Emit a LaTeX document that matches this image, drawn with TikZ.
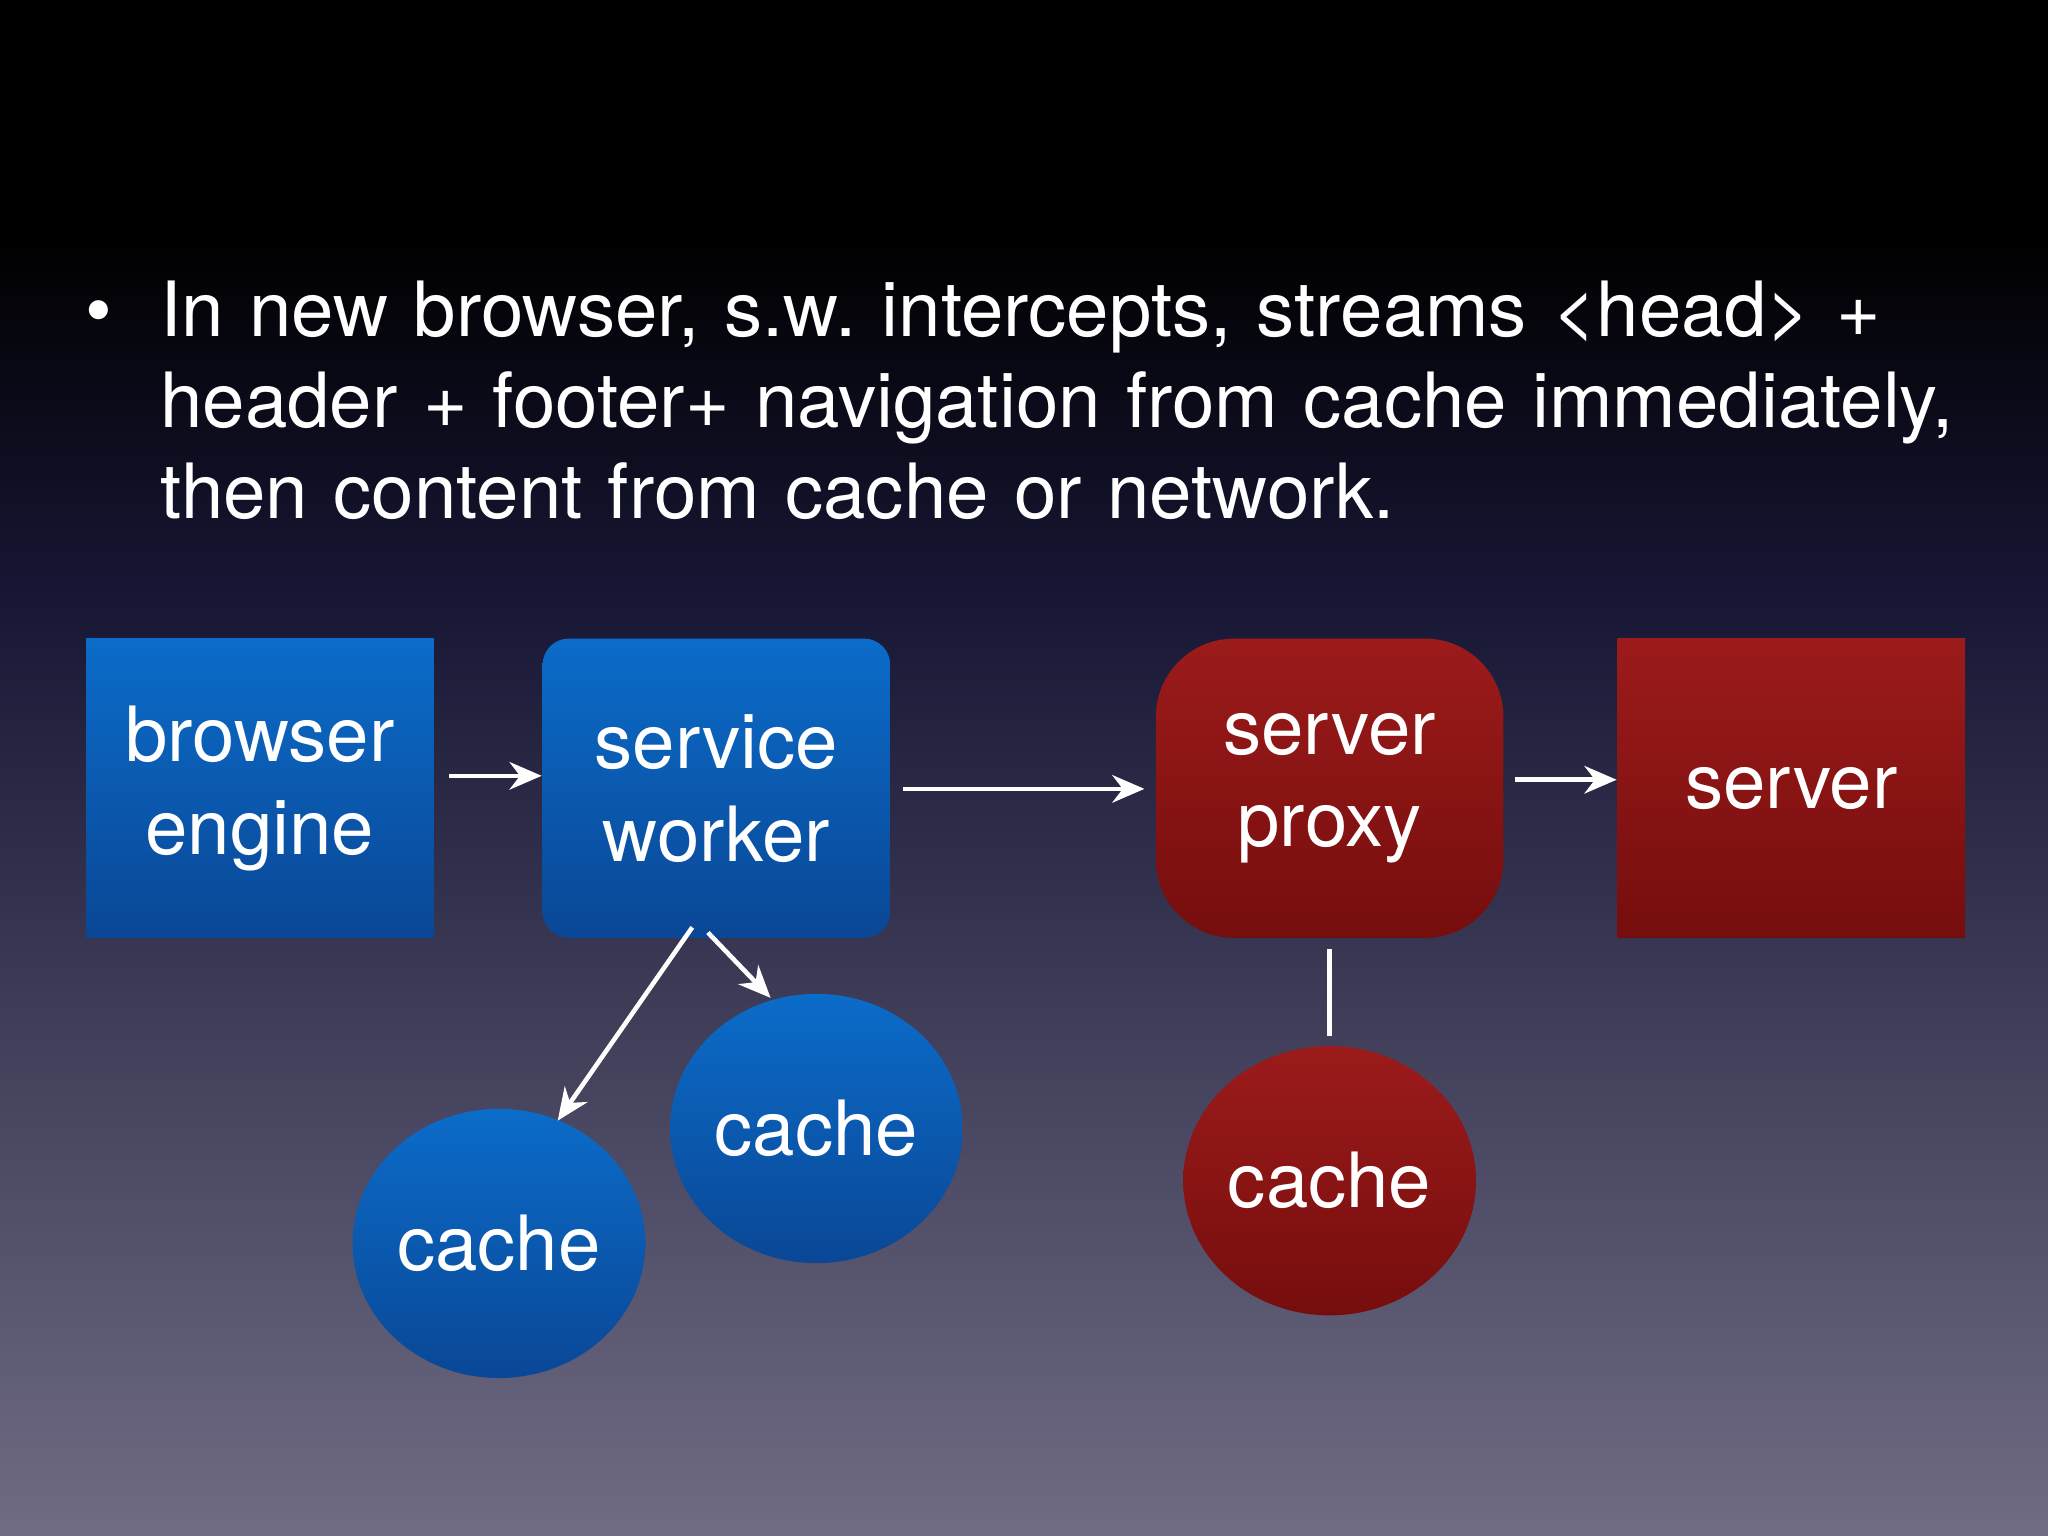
\documentclass[tikz,border=0pt]{standalone}
\usepackage{fontspec}
\setmainfont{TeX Gyre Heros}
\usetikzlibrary{shapes.geometric,arrows.meta,calc}
\definecolor{bA}{HTML}{0B6CC9}
\definecolor{bB}{HTML}{0A4796}
\definecolor{rA}{HTML}{9C1B1B}
\definecolor{rB}{HTML}{760D0D}
\begin{document}
\begin{tikzpicture}[x=0.01cm,y=-0.01cm,
 blue/.style={top color=bA,bottom color=bB,draw=none,text=white,align=center,font=\fontsize{16.6}{20.2}\selectfont,minimum width=2.66cm,minimum height=2.29cm,inner sep=0pt},
 red/.style={blue,top color=rA,bottom color=rB},
 cache/.style={ellipse,minimum width=2.24cm,minimum height=2.06cm},
 arr/.style={draw=white,line width=1pt,-{Stealth[length=7pt,width=6pt]}}]
\shade[top color=black,bottom color=black] (0,0) rectangle (1568,180);
\shade[top color=black,bottom color={rgb,255:red,22;green,22;blue,52}] (0,180) rectangle (1568,450);
\shade[top color={rgb,255:red,22;green,22;blue,52},bottom color={rgb,255:red,112;green,108;blue,132}] (0,449.5) rectangle (1568,1176);
\useasboundingbox (0,0) rectangle (1568,1176);
\node[text=white,anchor=base west,font=\fontsize{16.6}{19.8}\selectfont,align=left,text width=14.4cm,inner sep=0pt] (txt) at (122,258)
 {In new browser, s.w.\ intercepts, streams \textless head\textgreater{} +\\header + footer+ navigation from cache immediately,\\then content from cache or network.};
\node[text=white,font=\fontsize{16.6}{19.8}\selectfont,anchor=base,inner sep=0pt] (bul) at (76,258) {•};
\node[blue] (be) at (199,603.5) {browser\\engine};
\node[blue,rounded corners=0.2cm] (sw) at (548.5,603.5) {service\\worker};
\node[red,rounded corners=0.6cm] (sp) at (1018,603.5) {server\\proxy};
\node[red] (sv) at (1371.5,603.5) {server};
\node[blue,cache] (c1) at (382,952) {cache};
\node[blue,cache] (c2) at (625,864) {cache};
\node[red,cache] (c3) at (1018,904) {cache};
\draw[arr,shorten <=0.11cm] ($(be.east)+(0,-9.5)$) -- ($(sw.west)+(0,-9.5)$);
\draw[arr,shorten <=0.09cm,shorten >=0.08cm] ($(sw.east)+(0,0.5)$) -- ($(sp.west)+(0,0.5)$);
\draw[arr,shorten <=0.08cm] ($(sp.east)+(0,-6.5)$) -- ($(sv.west)+(0,-6.5)$);
\coordinate (s1) at (530,710); \coordinate (e1) at (427,858);
\coordinate (s2) at (542,714); \coordinate (e2) at (590,764);
\draw[arr] (s1) -- (e1);
\draw[arr] (s2) -- (e2);
\draw[white,line width=1pt,shorten <=0.08cm,shorten >=0.07cm] (sp.south) -- (c3.north);
\end{tikzpicture}
\end{document}
